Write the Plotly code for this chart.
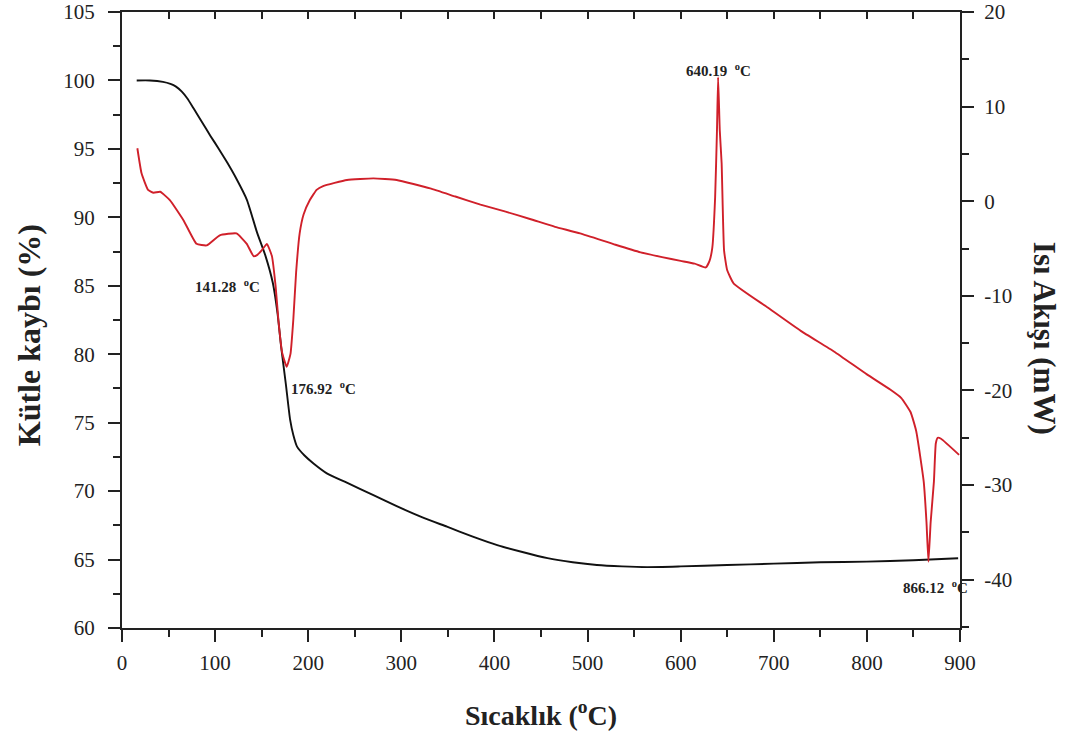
import plotly.graph_objects as go

# TG curve (mass loss, left axis)
tg_temp = [15.8, 30, 44, 52, 58, 64, 70, 77, 86, 95, 104, 113, 123, 134, 145, 154, 162, 167, 171, 176, 180.6,
           184, 188, 196, 206, 220, 242, 270, 295, 322, 349, 376, 403, 430, 457, 484, 510, 537, 564,
           600, 650, 700, 750, 800, 850, 898]
tg_mass = [100.0, 100.0, 99.9, 99.75, 99.55, 99.2, 98.7, 97.95, 96.95, 95.95, 95.0, 94.0, 92.8, 91.3, 88.9, 87.2, 85.2, 83.0, 80.5, 77.8, 75.2,
           74.1, 73.25, 72.6, 72.0, 71.3, 70.6, 69.7, 68.9, 68.1, 67.4, 66.7, 66.06, 65.55, 65.1, 64.8, 64.6, 64.5, 64.45,
           64.5, 64.6, 64.7, 64.8, 64.85, 64.95, 65.1]

# DSC curve (heat flow, right axis)
dsc_temp = [16.5, 21, 28, 34, 41, 51.6, 66, 80, 91, 105, 123, 134, 141.3, 145, 150, 155.6, 161, 165, 168, 172,
            176.9, 181, 184, 187, 190.8, 195, 201.6, 209, 216, 241.6, 270, 295, 331, 358, 385, 412, 439, 465, 492, 530, 557, 580, 600,
            615, 627, 631, 634, 637, 639, 640.2, 642, 644, 646.6, 650, 657, 693, 729, 765, 800, 825, 837, 847, 853, 861,
            864, 866.1, 868.5, 872, 874, 876, 879.6, 899]
dsc_heat = [5.6, 2.95, 1.2, 0.9, 1.0, 0.1, -2.0, -4.5, -4.66, -3.6, -3.4, -4.5, -5.8, -5.7, -5.2, -4.5, -5.8, -9.0, -12.6, -16.0,
            -17.5, -16.1, -12.5, -7.5, -3.4, -1.4, 0.1, 1.2, 1.6, 2.24, 2.42, 2.24, 1.36, 0.5, -0.35, -1.1, -1.9, -2.7, -3.4, -4.6, -5.4, -5.9, -6.3,
            -6.6, -7.0, -6.3, -4.9, 0.4, 7.5, 13.1, 7.5, 4.0, -5.2, -7.3, -8.7, -11.2, -13.7, -15.9, -18.3, -19.9, -20.8, -22.3, -24.3, -29.6,
            -33.9, -38.1, -33.9, -29.6, -25.6, -25.0, -25.1, -26.8]

# right axis tick labels
y2_tickvals = [20, 10, 0, -10, -20, -30, -40]
y2_ticktext = ["20", "10", "0", "-10", "-20", "-30", "-40"]

# peak labels
peak_temps = ["141.28", "176.92", "640.19", "866.12"]
label_x = [113, 216, 641, 874]
label_y = [-9.0, -19.7, 13.9, -40.8]

FONT = "Liberation Serif"
red = "#d0202a"
black = "#111111"

fig = go.Figure()
fig.add_trace(go.Scatter(x=tg_temp, y=tg_mass, mode="lines",
                         line=dict(color=black, width=1.9, shape="spline", smoothing=0.6),
                         showlegend=False, yaxis="y"))
fig.add_trace(go.Scatter(x=dsc_temp, y=dsc_heat, mode="lines",
                         line=dict(color=red, width=1.9, shape="spline", smoothing=0.4),
                         showlegend=False, yaxis="y2"))
# helper trace for top mirrored axis
fig.add_trace(go.Scatter(x=[], y=[], xaxis="x2", yaxis="y", showlegend=False, hoverinfo="skip"))

tickfont = dict(family=FONT, size=21, color="#222")
axis_common = dict(showline=True, linecolor="#222", linewidth=2, showgrid=False, zeroline=False,
                   ticks="outside", ticklen=12, tickwidth=2, tickcolor="#222", tickfont=tickfont,
                   automargin=False)

fig.update_layout(
    width=1068, height=734,
    margin=dict(l=122, r=108, t=12, b=106),
    paper_bgcolor="white", plot_bgcolor="white",
    xaxis=dict(range=[0, 900], dtick=100, tick0=0, ticklabelstandoff=3, **axis_common,
               minor=dict(dtick=50, ticklen=7, tickwidth=2, ticks="outside", tickcolor="#222")),
    xaxis2=dict(range=[0, 900], overlaying="x", side="top", anchor="y", showline=True, linecolor="#222",
                linewidth=2, showgrid=False, zeroline=False, showticklabels=False, automargin=False,
                ticks="inside", ticklen=7, tickwidth=2, tickcolor="#222", dtick=100, tick0=0,
                minor=dict(dtick=50, ticklen=7, tickwidth=2, ticks="inside", tickcolor="#222")),
    yaxis=dict(range=[60, 105], dtick=5, tick0=60, ticklabelstandoff=9, **axis_common,
               minor=dict(dtick=2.5, ticklen=7, tickwidth=2, ticks="outside", tickcolor="#222")),
    yaxis2=dict(range=[-45.1, 20], tickmode="array", tickvals=y2_tickvals, ticktext=y2_ticktext,
                overlaying="y", side="right", anchor="x",
                ticklabelstandoff=6, **axis_common,
                minor=dict(dtick=5, tick0=0, ticklen=7, tickwidth=2, ticks="outside", tickcolor="#222")),
)

annotations = []
for t, lx, ly in zip(peak_temps, label_x, label_y):
    annotations.append(dict(x=lx, y=ly, xref="x", yref="y2", showarrow=False,
                            xanchor="center", yanchor="middle",
                            text=f"<b>{t}  <sup>o</sup>C</b>",
                            font=dict(family=FONT, size=15, color="#222")))
annotations += [
    dict(x=0.5, y=-0.138, xref="paper", yref="paper", showarrow=False, xanchor="center", yanchor="middle",
         text="<b>Sıcaklık (<sup>o</sup>C)</b>", font=dict(family=FONT, size=28, color="#222")),
    dict(x=-0.11, y=0.475, xref="paper", yref="paper", showarrow=False, textangle=-90,
         xanchor="center", yanchor="middle",
         text="<b>Kütle kaybı (%)</b>", font=dict(family=FONT, size=32, color="#222")),
    dict(x=1.101, y=0.47, xref="paper", yref="paper", showarrow=False, textangle=90,
         xanchor="center", yanchor="middle",
         text="<b>Isı Akışı (mW)</b>", font=dict(family=FONT, size=31, color="#222")),
]
fig.update_layout(annotations=annotations)

fig.write_html("out.html")
